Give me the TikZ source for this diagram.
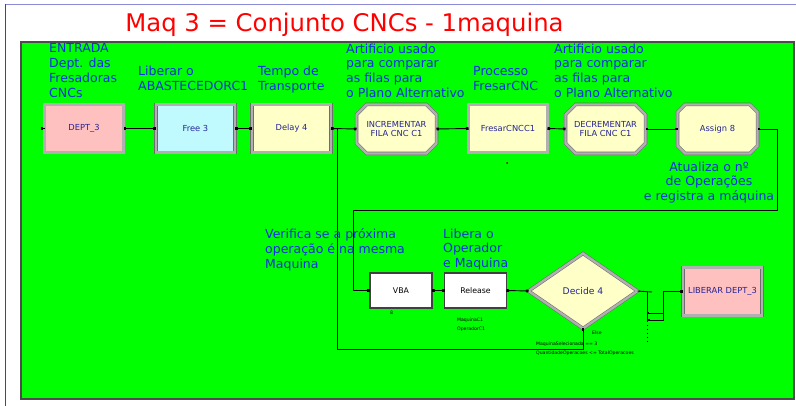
\documentclass[tikz,border=0pt]{standalone}
\usepackage{fontspec}
\setmainfont{DejaVu Sans}
\usetikzlibrary{shapes.misc,shapes.geometric,arrows.meta}
\definecolor{canvasgreen}{RGB}{0,255,0}
\definecolor{notetext}{RGB}{16,48,224}
\definecolor{modtext}{RGB}{36,36,150}
\definecolor{titlered}{RGB}{255,0,0}
\definecolor{pinkfill}{RGB}{255,192,192}
\definecolor{cyanfill}{RGB}{192,250,255}
\definecolor{yelfill}{RGB}{255,255,200}
\definecolor{rimdark}{RGB}{110,110,110}
\definecolor{rimlight}{RGB}{176,176,176}
\definecolor{pagerule}{RGB}{60,60,190}
\begin{document}
\begin{tikzpicture}[x=1pt,y=-1pt,
  blk/.style={rectangle, minimum width=79pt, minimum height=48pt, inner sep=0pt, outer sep=0pt,
    draw=rimdark, double=rimlight, double distance=2.4pt, line width=0.55pt,
    font=\fontsize{8.3}{9}\selectfont, text=modtext, align=center},
  asg/.style={blk, chamfered rectangle, chamfered rectangle xsep=6.5pt, minimum width=80pt, minimum height=49pt, fill=yelfill},
  plain/.style={rectangle, minimum width=62pt, minimum height=35pt, inner sep=0pt, outer sep=0pt,
    draw=black!75, line width=1.1pt, fill=white, font=\fontsize{7.8}{9}\selectfont},
  dec/.style={diamond, minimum width=109pt, minimum height=75pt, inner sep=0pt, outer sep=0pt,
    draw=rimdark, double=rimlight, double distance=2.4pt, line width=0.55pt, fill=yelfill,
    font=\fontsize{9.2}{10}\selectfont, text=modtext},
  note/.style={anchor=north west, inner sep=0pt, align=left, text=notetext, font=\fontsize{12.5}{14.8}\selectfont},
  tiny/.style={anchor=west, inner sep=0pt, font=\fontsize{4.6}{5}\selectfont},
  conn/.style={draw=black, line width=0.9pt, {Square[length=2.6pt,width=2.6pt]}-{Square[length=2.6pt,width=2.6pt]}},
  wire/.style={draw=black, line width=0.9pt}
]
\useasboundingbox (0,0) rectangle (796,406);
\fill[white] (0,0) rectangle (796,406);

% page rules
\draw[pagerule!60, line width=1pt] (5,4.5) -- (796,4.5);
\draw[pagerule, line width=1pt] (5,4.5) -- (5,406);

% title
\node[anchor=base, inner sep=0pt, text=titlered, font=\fontsize{24.3}{27}\selectfont] (title) at (344.5,32) {Maq 3 = Conjunto CNCs - 1maquina};

% model canvas
\path[fill=canvasgreen, draw=black!70, line width=1.3pt] (21,42) rectangle (794,399);

% upper row of modules
\node[blk, fill=pinkfill] (dept) at (84,128.5) {DEPT\_3};
\node[blk, fill=cyanfill] (free) at (195.5,128.5) {Free 3};
\node[blk, fill=yelfill] (delay) at (291.5,128.5) {Delay 4};
\node[asg] (incr) at (396.5,129) {INCREMENTAR\\FILA CNC C1};
\node[blk, fill=yelfill] (fresar) at (508,128.5) {FresarCNCC1};
\node[asg] (decr) at (605.5,129) {DECREMENTAR\\FILA CNC C1};
\node[asg] (assign) at (717.5,129) {Assign 8};

% lower row of modules
\node[plain] (vba) at (401,290.5) {VBA};
\node[plain] (release) at (475.5,290.5) {Release};
\node[dec] (decide) at (583,291) {Decide 4};
\node[blk, fill=pinkfill] (liberar) at (722.5,291.5) {LIBERAR DEPT\_3};

% entry stub of the source module
\coordinate (deptin) at (40.5,128.5);
\draw[conn, {Square[length=2.6pt,width=2.6pt]}-] (deptin) -- (dept.west);

% upper row connectors
\coordinate (jn) at (337,128.5);
\draw[conn] (dept.east) -- (free.west);
\draw[conn] (free.east) -- (delay.west);
\draw[conn] (delay.east) -- (incr.west);
\draw[conn] (incr.east) -- (fresar.west);
\draw[conn] (fresar.east) -- (decr.west);
\draw[conn] (decr.east) -- (assign.west);

% Assign 8 back down to VBA
\coordinate (a1) at (777,210);
\coordinate (a2) at (353,210);
\draw[conn] (assign.east) -| (a1) -- (a2) |- (vba.west);

% lower row connectors
\draw[conn] (vba.east) -- (release.west);
\draw[conn] (release.east) -- (decide.west);

% Else branch back to the increment module
\coordinate (elsecorner) at (337,349);
\draw[wire, {Square[length=2.6pt,width=2.6pt]}-] (decide.south) |- (elsecorner) -- (jn);

% true exits of Decide 4
\coordinate (dtop) at (652,292);
\coordinate (bustop) at (647,292);
\coordinate (busbot) at (647,322);
\coordinate (ex1) at (647,313);
\coordinate (ex2) at (647,320);
\coordinate (j1) at (663,313);
\coordinate (j2) at (663,320);
\draw[wire] (decide.east) -- (dtop);
\draw[wire] (bustop) -- (busbot);
\draw[wire, {Square[length=2.2pt,width=2.2pt]}-] (ex1) -- (j1);
\draw[conn] (ex2) -- (j2) |- (liberar.west);
\draw[wire, line width=0.8pt, dash pattern=on 1pt off 3pt] (647,325) -- (647,342);

% module annotations
\node[note] (n1) at (49,43.5) {ENTRADA\\Dept. das\\Fresadoras\\CNCs};
\node[note] (n2) at (138,66) {Liberar o\\ABASTECEDORC1};
\node[note] (n3) at (258,66) {Tempo de\\Transporte};
\node[note] (n4) at (346,43.5) {Artificio usado\\para comparar\\as filas para\\o Plano Alternativo};
\node[note] (n5) at (473,66) {Processo\\FresarCNC};
\node[note] (n6) at (554,43.5) {Artificio usado\\para comparar\\as filas para\\o Plano Alternativo};
\node[note, anchor=north, align=center] (n7) at (709,161.5) {Atualiza o nº\\de Operações\\e registra a máquina};
\node[note] (n8) at (265,228.5) {Verifica se a próxima\\operação é na mesma\\Maquina};
\node[note] (n9) at (443,228.5) {Libera o\\Operador\\e Maquina};

% small module details
\node[tiny] (vbanum) at (390,312.5) {8};
\node[tiny] (res1) at (457,320) {MaquinaC1};
\node[tiny] (res2) at (457,329) {OperadorC1};
\node[tiny] (elsetxt) at (592,333) {Else};
\node[tiny] (cond1) at (536,344) {MaquinaSelecionada == 3};
\node[tiny] (cond2) at (536,353) {QuantidadeOperacoes <= TotalOperacoes};
\fill[red!60!black] (507,163) circle (1pt);
\end{tikzpicture}
\end{document}
